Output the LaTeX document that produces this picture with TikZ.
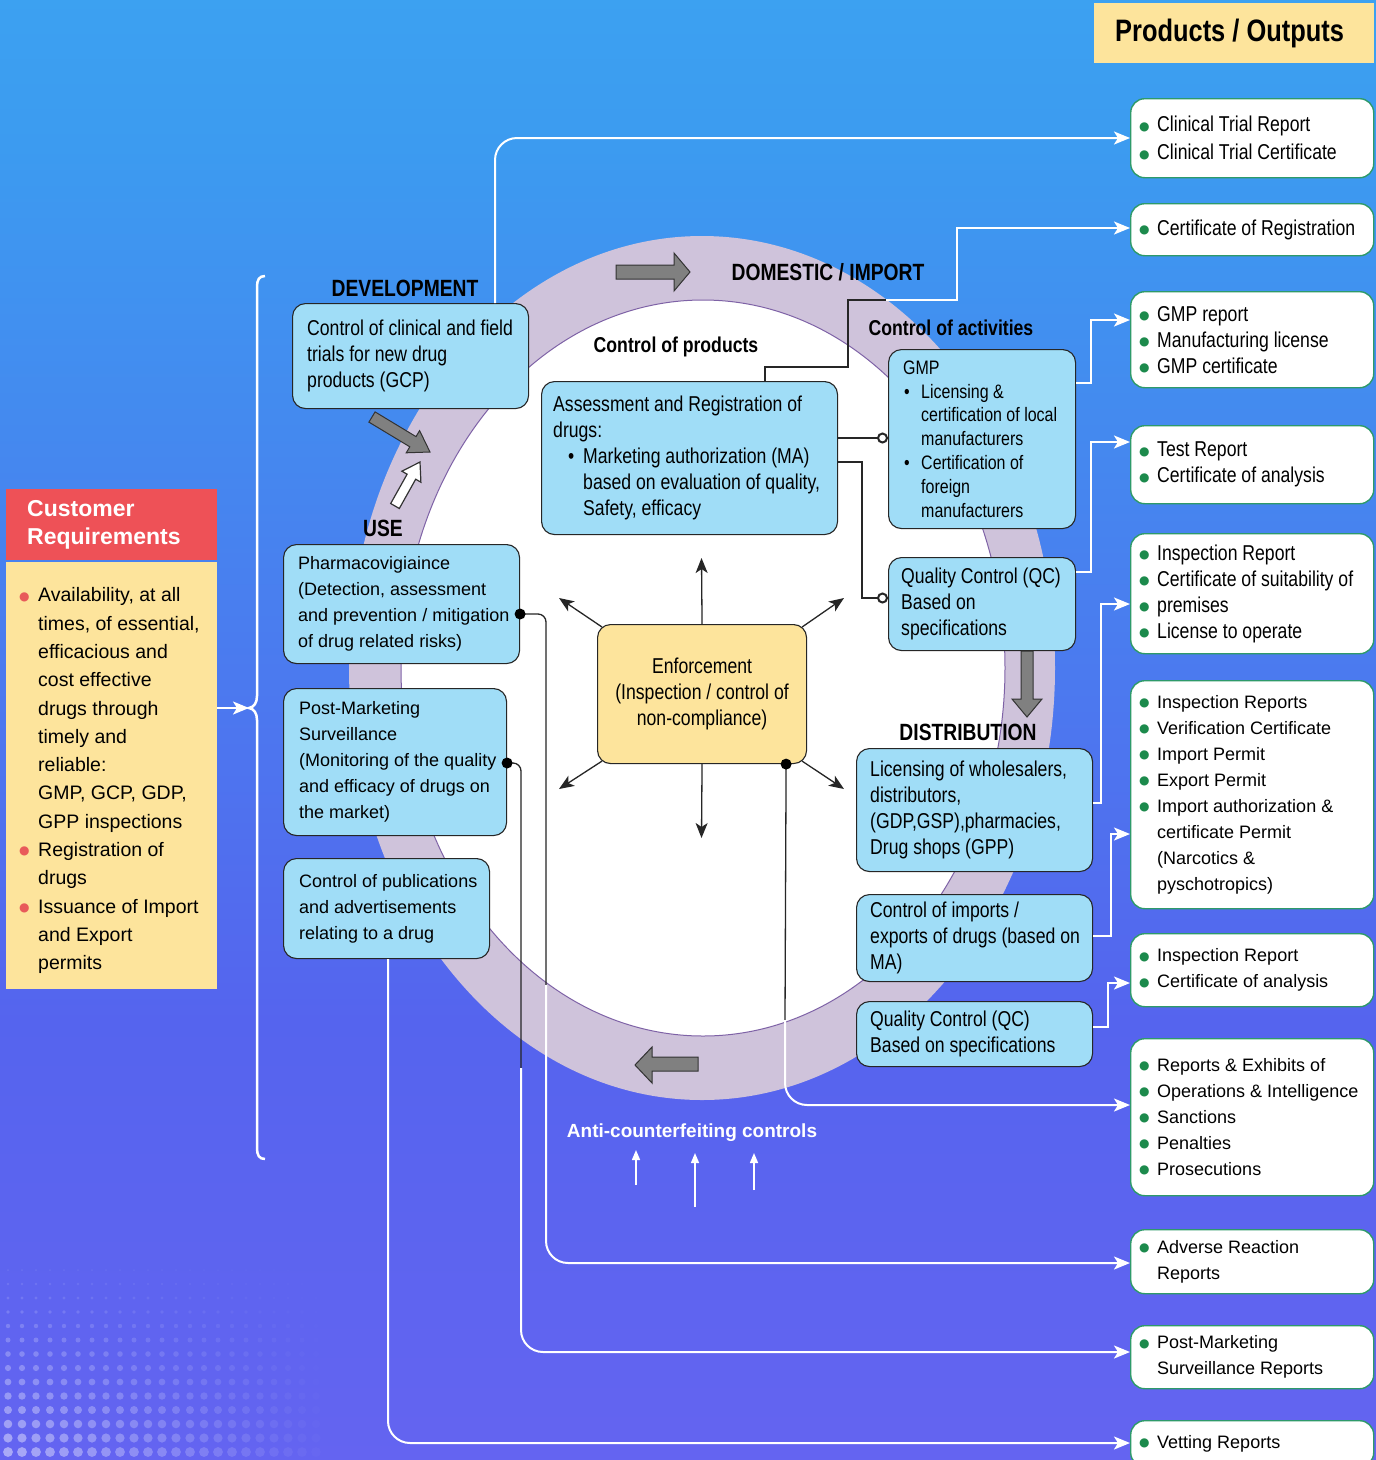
\documentclass[tikz,border=0pt]{standalone}
\usepackage{fontspec}
\setmainfont{Liberation Sans}
\newfontfamily\nar[FakeStretch=0.82]{Liberation Sans}
\newfontfamily\dvs{DejaVu Sans}
\usetikzlibrary{arrows.meta,calc}
\definecolor{boxblue}{RGB}{160,221,247}
\definecolor{ylw}{RGB}{253,228,156}
\definecolor{redh}{RGB}{238,81,87}
\definecolor{ringc}{RGB}{207,195,219}
\definecolor{ringl}{RGB}{126,98,166}
\definecolor{grn}{RGB}{46,154,106}
\definecolor{bulgreen}{RGB}{28,138,76}
\definecolor{bulred}{RGB}{232,90,90}
\definecolor{bgtop}{RGB}{58,190,245}
\definecolor{bgm1}{RGB}{60,155,240}
\definecolor{bgm2}{RGB}{85,100,238}
\definecolor{bgbot}{RGB}{125,100,245}
\pgfdeclareverticalshading{bgsh}{100bp}{color(0bp)=(bgbot); color(40bp)=(bgm2); color(70bp)=(bgm1); color(100bp)=(bgtop)}
\newcommand\gdot{\raisebox{1.8pt}{\dvs\fontsize{12}{12}\selectfont\textcolor{bulgreen}{●}}}
\newcommand\rdot{\raisebox{1.8pt}{\dvs\fontsize{12}{12}\selectfont\textcolor{bulred}{●}}}
\newcommand\gb{\makebox[18pt][l]{\gdot}}
\newcommand\gi{\hspace*{18pt}}
\newcommand\rb{\makebox[19pt][l]{\rdot}}
\newcommand\ri{\hspace*{19pt}}
\newcommand\kb{\hspace*{1pt}\makebox[17pt][l]{\textbullet}}
\newcommand\ki{\hspace*{18pt}}
\newcommand\mkbox[9]{%
 \node[#6, minimum width={#4-#2}, minimum height={#5-#3}, anchor=north west] (#1) at (#2,#3) {};%
 \node[#8, anchor=west, align=left, inner sep=0pt] (#1t) at ([xshift=#7pt]#1.west) {#9};}
\tikzset{
 bbox/.style={draw=black!85, fill=boxblue, line width=1.1pt, rounded corners=13pt, inner sep=0pt},
 ybox/.style={draw=black!85, fill=ylw, line width=1.1pt, rounded corners=13pt, inner sep=0pt},
 obox/.style={draw=grn, fill=white, line width=1.4pt, rounded corners=14pt, inner sep=0pt},
 redbox/.style={fill=redh, inner sep=0pt},
 custbox/.style={fill=ylw, inner sep=0pt},
 prodbox/.style={fill=ylw, inner sep=0pt},
 fn/.style={font=\nar\fontsize{21.5}{26}\selectfont},
 fn28/.style={font=\nar\fontsize{21.5}{28}\selectfont},
 fg/.style={font=\nar\fontsize{19.5}{23.8}\selectfont},
 fr/.style={font=\fontsize{18}{26}\selectfont},
 fcust/.style={font=\fontsize{19.5}{28.3}\selectfont, yshift=-5pt},
 fcrh/.style={font=\bfseries\fontsize{23}{28}\selectfont, text=white},
 fprod/.style={font=\nar\bfseries\fontsize{31}{36}\selectfont},
 lbl/.style={font=\nar\bfseries\fontsize{23.5}{28}\selectfont, inner sep=0pt},
 lblb/.style={font=\nar\bfseries\fontsize{21.5}{26}\selectfont, inner sep=0pt},
 kline/.style={draw=black!85, line width=1.3pt},
 wline/.style={draw=white, line width=2pt},
 wtip/.style={-{Stealth[length=16pt,width=13pt,inset=4pt]}},
 ktip/.style={-{Stealth[length=15pt,width=12pt,inset=4pt]}},
 ctip/.style={-{Circle[length=11pt,width=11pt,fill=white,line width=2pt]}},
 garrow/.style={fill=black!50, draw=black!80, line width=1pt},
}
\begin{document}
\begin{tikzpicture}[x=1pt,y=-1pt]
\useasboundingbox (0,0) rectangle (1376,1460);
\shade[shading=bgsh] (0,0) rectangle (1376,1460);
% decorative dots
\foreach \i in {0,...,22}{\foreach \j in {0,...,13}{%
 \pgfmathsetmacro\op{0.45*(1-\i/23)*(\j+3)/16}%
 \pgfmathsetmacro\rr{1+0.3*\j}%
 \fill[white, opacity=\op] (8+14*\i, 1270+14*\j) circle (\rr);}}
% ring
\fill[ringc] (702,668) ellipse [x radius=353, y radius=432];
\fill[white] (703,668) ellipse [x radius=302, y radius=368];
\draw[ringl, line width=1pt] (703,668) ellipse [x radius=302, y radius=368];

% boxes
\mkbox{gcp}{292}{303}{528}{408}{bbox}{15}{fn}{Control of clinical and field\\trials for new drug\\products (GCP)}
\mkbox{ass}{541}{381}{837}{534}{bbox}{12}{fn}{Assessment and Registration of\\drugs:\\\hspace*{15pt}\makebox[15pt][l]{\textbullet}Marketing authorization (MA)\\\hspace*{30pt}based on evaluation of quality,\\\hspace*{30pt}Safety, efficacy}
\mkbox{gmp}{888}{349}{1075}{528}{bbox}{15}{fg}{GMP\\\kb Licensing \&\\\ki certification of local\\\ki manufacturers\\\kb Certification of\\\ki foreign\\\ki manufacturers}
\mkbox{qc}{888}{557}{1075}{650}{bbox}{13}{fn}{Quality Control (QC)\\Based on\\specifications}
\node[ybox, minimum width=209, minimum height=139, anchor=north west, align=center, fn] (enf) at (597,624) {Enforcement\\(Inspection / control of\\non-compliance)};
\mkbox{pv}{283}{544}{519}{663}{bbox}{15}{fr}{Pharmacovigiaince\\(Detection, assessment\\and prevention / mitigation\\of drug related risks)}
\mkbox{pms}{283}{688}{506}{835}{bbox}{16}{fr}{Post-Marketing\\Surveillance\\(Monitoring of the quality\\and efficacy of drugs on\\the market)}
\mkbox{pub}{283}{858}{489}{958}{bbox}{16}{fr}{Control of publications\\and advertisements\\relating to a drug}
\mkbox{lic}{856}{748}{1092}{871}{bbox}{14}{fn}{Licensing of wholesalers,\\distributors,\\(GDP,GSP),pharmacies,\\Drug shops (GPP)}
\mkbox{imp}{856}{894}{1092}{981}{bbox}{14}{fn}{Control of imports /\\exports of drugs (based on\\MA)}
\mkbox{qcb}{856}{1001}{1092}{1066}{bbox}{14}{fn}{Quality Control (QC)\\Based on specifications}

% customer
\mkbox{crh}{6}{489}{217}{560}{redbox}{21}{fcrh}{Customer\\Requirements}
\mkbox{cust}{6}{562}{217}{989}{custbox}{13}{fcust}{\rb Availability, at all\\\ri times, of essential,\\\ri efficacious and\\\ri cost effective\\\ri drugs through\\\ri timely and\\\ri reliable:\\\ri GMP, GCP, GDP,\\\ri GPP inspections\\\rb Registration of\\\ri drugs\\\rb Issuance of Import\\\ri and Export\\\ri permits}

% outputs
\mkbox{prod}{1094}{3}{1374}{63}{prodbox}{21}{fprod}{Products / Outputs}
\mkbox{o1}{1130}{98}{1373}{177}{obox}{9}{fn28}{\gb Clinical Trial Report\\\gb Clinical Trial Certificate}
\mkbox{o2}{1130}{203}{1373}{255}{obox}{9}{fn}{\gb Certificate of Registration}
\mkbox{o3}{1130}{291}{1373}{387}{obox}{9}{fn}{\gb GMP report\\\gb Manufacturing license\\\gb GMP certificate}
\mkbox{o4}{1130}{425}{1373}{503}{obox}{9}{fn}{\gb Test Report\\\gb Certificate of analysis}
\mkbox{o5}{1130}{533}{1373}{653}{obox}{9}{fn}{\gb Inspection Report\\\gb Certificate of suitability of\\\gb premises\\\gb License to operate}
\mkbox{o6}{1130}{680}{1373}{908}{obox}{9}{fr}{\gb Inspection Reports\\\gb Verification Certificate\\\gb Import Permit\\\gb Export Permit\\\gb Import authorization \&\\\gi certificate Permit\\\gi (Narcotics \&\\\gi pyschotropics)}
\mkbox{o7}{1130}{933}{1373}{1006}{obox}{9}{fr}{\gb Inspection Report\\\gb Certificate of analysis}
\mkbox{o8}{1130}{1038}{1373}{1195}{obox}{9}{fr}{\gb Reports \& Exhibits of\\\gb Operations \& Intelligence\\\gb Sanctions\\\gb Penalties\\\gb Prosecutions}
\mkbox{o9}{1130}{1229}{1373}{1293}{obox}{9}{fr}{\gb Adverse Reaction\\\gi Reports}
\mkbox{o10}{1130}{1325}{1373}{1388}{obox}{9}{fr}{\gb Post-Marketing\\\gi Surveillance Reports}
\mkbox{o11}{1130}{1420}{1373}{1466}{obox}{9}{fr}{\gb Vetting Reports}

% labels
\node[lbl] (dev) at (405,288) {DEVELOPMENT};
\node[lbl] (use) at (383,528) {USE};
\node[lblb] (cprod) at (676,347) {Control of products};
\node[lbl] (dom) at (828,272) {DOMESTIC / IMPORT};
\node[lblb] (cact) at (951,328) {Control of activities};
\node[lbl] (dist) at (968,732) {DISTRIBUTION};
\node[font=\bfseries\fontsize{19}{23}\selectfont, text=white, inner sep=0pt] (anti) at (692,1133) {Anti-counterfeiting controls};

% gray block arrows
\filldraw[garrow] (616,265) -- (674,265) -- (674,253) -- (690,272) -- (674,291) -- (674,279) -- (616,279) -- cycle;
\filldraw[garrow] (375.1,411.9) -- (416.0,436.6) -- (419.6,430.6) -- (430,452) -- (406.2,452.8) -- (409.8,446.8) -- (368.9,422.1) -- cycle;
\filldraw[fill=white, draw=black!80, line width=1.2pt] (390.7,503.5) -- (407.1,474.2) -- (401.9,471.2) -- (420,462) -- (420.9,482.2) -- (415.7,479.2) -- (399.3,508.5) -- cycle;
\filldraw[garrow] (1021,651) -- (1033,651) -- (1033,699) -- (1042,699) -- (1027,717) -- (1012,699) -- (1021,699) -- cycle;
\filldraw[garrow] (698,1057) -- (652,1057) -- (652,1047) -- (635,1065) -- (652,1083) -- (652,1071) -- (698,1071) -- cycle;

% anti-counterfeiting arrows
\coordinate (ac1) at (636,1185);
\coordinate (ac2) at (695,1207);
\coordinate (ac3) at (754,1190);
\draw[white, line width=1.5pt, -{Triangle[length=10pt,width=8pt]}] (ac1) -- ++(0,-35);
\draw[white, line width=1.5pt, -{Triangle[length=10pt,width=8pt]}] (ac2) -- ++(0,-54);
\draw[white, line width=1.5pt, -{Triangle[length=10pt,width=8pt]}] (ac3) -- ++(0,-37);

% brace and customer arrow
\coordinate (brace) at (249,708);
\draw[white, line width=2.5pt] (265,276) .. controls (259,276) and (257,280) .. (257,287) -- (257,696) .. controls (257,703) and (254,707) .. (brace) .. controls (254,709) and (257,713) .. (257,720) -- (257,1148) .. controls (257,1155) and (259,1159) .. (265,1159);
\draw[wline, wtip] ($(cust.north east)+(0,146)$) -- (brace);

% enforcement arrows
\coordinate (eU) at (701.5,558);
\coordinate (eD) at (701.5,838);
\coordinate (eUL) at (559,598);
\coordinate (eUR) at (844,598);
\coordinate (eDL) at (559,789);
\coordinate (eDR) at (844,789);
\draw[kline, ktip] (enf.north) -- (eU);
\draw[kline, ktip] (enf.south) -- (eD);
\draw[kline, ktip] ($(enf.north west)+(5,3)$) -- (eUL);
\draw[kline, ktip] ($(enf.north east)+(-5,3)$) -- (eUR);
\draw[kline, ktip] ($(enf.south west)+(5,-3)$) -- (eDL);
\draw[kline, ktip] ($(enf.south east)+(-5,-3)$) -- (eDR);

% connectors black -> boxes
\draw[kline, ctip] ($(ass.north east)+(0,57)$) -- ($(gmp.north west)+(0,89)$);
\draw[kline, ctip] ($(ass.north east)+(0,81)$) -| (862,598) -- ($(qc.north west)+(0,41)$);

% top connectors
\draw[wline, wtip, rounded corners=22pt] ($(gcp.north west)+(203,0)$) |- ($(o1.north west)+(0,40)$);
\coordinate (jA) at (886,300);
\draw[kline] ($(ass.north west)+(224,0)$) |- (848,367) |- (jA);
\draw[wline, wtip] (jA) -- (957,300) |- ($(o2.north west)+(0,25)$);

% right connectors
\draw[wline, wtip] ($(gmp.north east)+(0,34)$) -- ++(15,0) |- ($(o3.north west)+(0,29)$);
\draw[wline, wtip] ($(qc.north east)+(0,15)$) -- ++(15,0) |- ($(o4.north west)+(0,17)$);
\draw[wline, wtip] ($(lic.north east)+(0,55)$) -- ++(8,0) |- ($(o5.north west)+(0,71)$);
\draw[wline, wtip] ($(imp.north east)+(0,42)$) -- ++(18,0) |- ($(o6.north west)+(0,154)$);
\draw[wline, wtip] ($(qcb.north east)+(0,26)$) -- ++(15,0) |- ($(o7.north west)+(0,50)$);

% lower connectors
\coordinate (pvj) at (546,985);
\coordinate (pmsj) at (521,1068);
\coordinate (enfj) at (785,1020);
\draw[kline, rounded corners=8pt] ($(pv.north east)+(0,70)$) -| (pvj);
\draw[wline, wtip, rounded corners=22pt] (pvj) |- ($(o9.north west)+(0,34)$);
\draw[kline, rounded corners=8pt] ($(pms.north east)+(0,75)$) -| (pmsj);
\draw[wline, wtip, rounded corners=22pt] (pmsj) |- ($(o10.north west)+(0,27)$);
\draw[kline] ($(enf.south east)+(-21,0)$) -- (enfj);
\draw[wline, wtip, rounded corners=22pt] (enfj) |- ($(o8.north west)+(0,67)$);
\draw[wline, wtip, rounded corners=22pt] ($(pub.south west)+(105,0)$) |- ($(o11.north west)+(0,23)$);

% dots
\fill[black] ($(pv.north east)+(0,70)$) circle (5.5);
\fill[black] ($(pms.north east)+(0,75)$) circle (5.5);
\fill[black] ($(enf.south east)+(-21,0)$) circle (5.5);
\end{tikzpicture}
\end{document}
